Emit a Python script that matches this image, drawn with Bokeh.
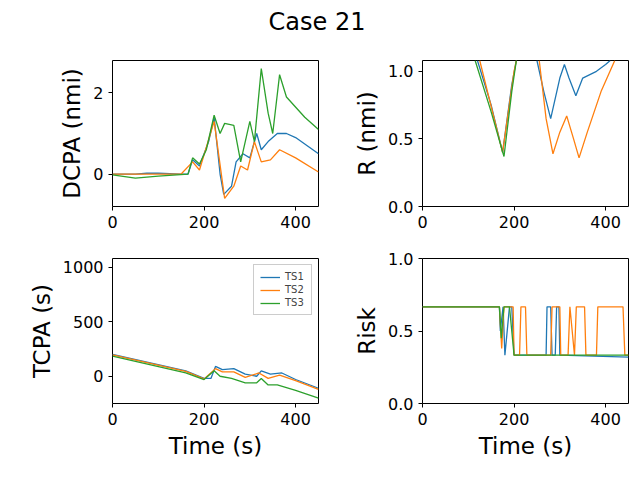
from bokeh.plotting import figure
from bokeh.layouts import column, gridplot
from bokeh.models import Div, Range1d, FixedTicker, Legend, LegendItem, NumeralTickFormatter
from bokeh.embed import file_html
from bokeh.resources import INLINE

C1, C2, C3 = "#1f77b4", "#ff7f0e", "#2ca02c"
FONT = "DejaVu Sans"
NAN = float("nan")

# DCPA (nmi)
dcpa_t1 = [0, 50, 75, 100, 150, 165, 175, 190, 210, 222, 235, 243, 260, 270, 285, 300, 315, 325, 340, 360, 380, 400, 450]
dcpa_v1 = [0, 0, 0.02, 0.02, 0, 0, 0.35, 0.2, 0.8, 1.4, 0, -0.5, -0.3, 0.3, 0.5, 0.4, 1.0, 0.6, 0.8, 1.0, 1.0, 0.9, 0.5]
dcpa_t2 = [0, 150, 175, 190, 222, 245, 265, 280, 295, 310, 325, 345, 365, 400, 450]
dcpa_v2 = [0, 0, 0.3, 0.1, 1.3, -0.6, -0.3, 0.2, 0.1, 0.8, 0.3, 0.35, 0.6, 0.4, 0.05]
dcpa_t3 = [0, 50, 100, 165, 175, 190, 205, 222, 235, 245, 265, 280, 300, 310, 325, 340, 350, 365, 380, 420, 450]
dcpa_v3 = [-0.02, -0.1, -0.05, 0, 0.4, 0.25, 0.6, 1.45, 1.0, 1.25, 1.2, 0.3, 1.3, 0.8, 2.6, 1.5, 1.0, 2.45, 1.9, 1.4, 1.1]

# R (nmi)
r_t1 = [120, 150, 175, 195, 205, NAN, 250, 265, 280, 300, 310, 320, 335, 350, 380, 400, 410]
r_v1 = [1.08, 0.75, 0.4, 0.9, 1.08, NAN, 1.08, 0.85, 0.65, 0.95, 1.05, 0.95, 0.82, 0.95, 1.0, 1.05, 1.08]
r_t2 = [125, 175, 200, 205, NAN, 255, 270, 285, 300, 315, 330, 342, 360, 390, 420]
r_v2 = [1.08, 0.4, 1.0, 1.08, NAN, 1.08, 0.65, 0.39, 0.55, 0.67, 0.5, 0.36, 0.55, 0.85, 1.08]
r_t3 = [115, 150, 178, 195, 205]
r_v3 = [1.08, 0.7, 0.37, 0.85, 1.08]

# TCPA (s)
tcpa_t1 = [0, 160, 200, 215, 225, 240, 265, 290, 315, 325, 345, 370, 400, 450]
tcpa_v1 = [200, 50, -20, -20, 90, 60, 70, 20, 0, 50, 20, 30, -30, -110]
tcpa_t2 = [0, 160, 200, 225, 240, 265, 290, 320, 340, 365, 400, 450]
tcpa_v2 = [195, 45, -25, 70, 40, 40, -10, 30, -20, 10, -40, -120]
tcpa_t3 = [0, 160, 200, 222, 235, 260, 290, 315, 325, 340, 360, 400, 450]
tcpa_v3 = [185, 30, -30, 50, 0, -20, -60, -60, -20, -80, -80, -130, -200]

# Risk
risk_t1 = [0, 168, 170, 176, 180, 190, 195, 200, 215, 225, 270, 272, 280, 283, 290, 293, 298, 300, 450]
risk_v1 = [0.667, 0.667, 0.5, 0.667, 0.333, 0.667, 0.667, 0.333, 0.333, 0.333, 0.333, 0.667, 0.667, 0.333, 0.333, 0.667, 0.667, 0.333, 0.32]
risk_t2 = [0, 168, 173, 178, 185, 198, 200, 212, 215, 225, 228, 280, 283, 300, 302, 318, 322, 332, 336, 354, 357, 380, 383, 438, 442, 450]
risk_v2 = [0.667, 0.667, 0.38, 0.667, 0.667, 0.667, 0.333, 0.333, 0.667, 0.667, 0.333, 0.333, 0.667, 0.667, 0.333, 0.333, 0.667, 0.333, 0.667, 0.667, 0.333, 0.333, 0.667, 0.667, 0.333, 0.333]
risk_t3 = [0, 168, 172, 178, 190, 195, 200, 450]
risk_v3 = [0.667, 0.667, 0.45, 0.667, 0.667, 0.5, 0.333, 0.333]


def make(yr, yticks, ylabel, xlabel, bottom, fh, border_left, top):
    p = figure(frame_width=206, frame_height=fh, min_border_left=border_left,
               min_border_right=6, min_border_top=top, min_border_bottom=bottom,
               output_backend="svg", toolbar_location=None,
               x_range=Range1d(0, 450), y_range=Range1d(*yr))
    p.xgrid.visible = False
    p.ygrid.visible = False
    p.outline_line_color = "black"
    p.xaxis.ticker = FixedTicker(ticks=[0, 200, 400])
    p.yaxis.ticker = FixedTicker(ticks=yticks)
    for ax in (p.xaxis[0], p.yaxis[0]):
        ax.major_label_text_font = FONT
        ax.major_label_text_font_size = "16px"
        ax.major_label_text_color = "black"
        ax.axis_label_text_font = FONT
        ax.axis_label_text_font_size = "23px"
        ax.axis_label_text_color = "black"
        ax.axis_label_text_font_style = "normal"
        ax.minor_tick_line_color = None
        ax.major_tick_out = 4
        ax.major_tick_in = 0
        ax.axis_line_color = None
    p.yaxis.axis_label = ylabel
    if xlabel:
        p.xaxis.axis_label = xlabel
    return p


def lines(p, data):
    rs = []
    for (t, v), c in zip(data, (C1, C2, C3)):
        rs.append(p.line(t, v, line_color=c, line_width=1.3))
    return rs


p1 = make((-0.8, 2.8), [0, 2], "DCPA (nmi)", None, 26, 146, 112, 18)
lines(p1, [(dcpa_t1, dcpa_v1), (dcpa_t2, dcpa_v2), (dcpa_t3, dcpa_v3)])

p2 = make((0, 1.08), [0.0, 0.5, 1.0], "R (nmi)", None, 26, 146, 98, 18)
lines(p2, [(r_t1, r_v1), (r_t2, r_v2), (r_t3, r_v3)])
p2.yaxis.formatter = NumeralTickFormatter(format="0.0")

p3 = make((-250, 1080), [0, 500, 1000], "TCPA (s)", "Time (s)", 62, 145, 112, 26)
rs = lines(p3, [(tcpa_t1, tcpa_v1), (tcpa_t2, tcpa_v2), (tcpa_t3, tcpa_v3)])
leg = Legend(items=[LegendItem(label=n, renderers=[r]) for n, r in zip(["TS1", "TS2", "TS3"], rs)],
             location="top_right", label_text_font=FONT, label_text_font_size="10px",
             glyph_height=10, label_height=10, spacing=2, padding=6, margin=6,
             border_line_color="#cccccc", border_line_alpha=1)
p3.add_layout(leg)

p4 = make((0, 1.0), [0.0, 0.5, 1.0], "Risk", "Time (s)", 62, 145, 98, 26)
lines(p4, [(risk_t1, risk_v1), (risk_t2, risk_v2), (risk_t3, risk_v3)])
p4.yaxis.formatter = NumeralTickFormatter(format="0.0")

grid = gridplot([[p1, p2], [p3, p4]], toolbar_location=None)
title = Div(text='<div style="width:624px;text-align:center;font-family:DejaVu Sans;font-size:24px;">Case 21</div>',
            width=624, height=32)
layout = column(title, grid)

open("out.html", "w").write(file_html(layout, INLINE))
